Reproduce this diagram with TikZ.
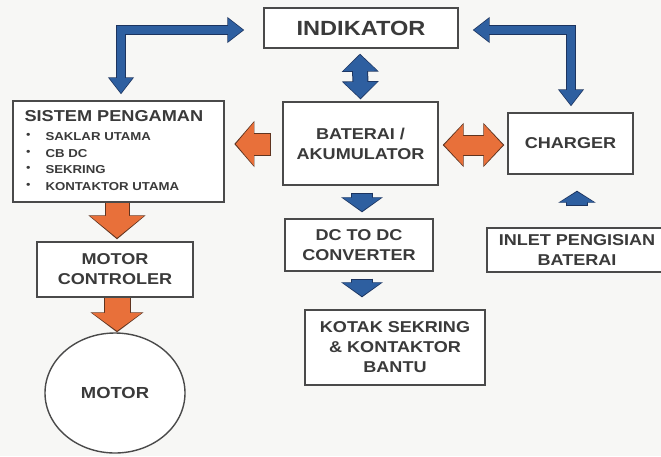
\documentclass[tikz,border=0pt]{standalone}
\usepackage{fontspec}
\setmainfont{Liberation Sans}[FakeStretch=1.15]
\usetikzlibrary{arrows.meta,calc,shapes.geometric}
\definecolor{bgc}{HTML}{F7F7F5}
\definecolor{txt}{HTML}{3A3A3A}
\definecolor{boxc}{HTML}{4A4A4A}
\definecolor{bfill}{RGB}{46,95,160}
\definecolor{bdark}{RGB}{28,52,95}
\definecolor{ofill}{RGB}{232,112,58}
\definecolor{odark}{RGB}{95,52,32}
\tikzset{
  blk/.style={draw=boxc, line width=1.4pt, fill=white, inner sep=0pt, align=center,
    text=txt, font=\fontsize{15.7}{20}\selectfont\bfseries},
  bo/.style={draw=bdark, line width=#1+2, line join=miter, line cap=butt},
  bi/.style={draw=bfill, line width=#1, line join=miter, line cap=butt},
  ob/.style={draw=odark, line width=#1+2, line cap=butt},
  oi/.style={draw=ofill, line width=#1, line cap=butt},
}
\begin{document}
\begin{tikzpicture}[x=1pt,y=-1pt]
\useasboundingbox (0,0) rectangle (661,456);
\fill[bgc] (0,0) rectangle (661,456);

% boxes
\node[blk, minimum width=194, minimum height=40, font=\fontsize{20.5}{24}\selectfont\bfseries] (ind) at (361,28) {INDIKATOR};
\node[blk, minimum width=211, minimum height=101] (sis) at (118.5,151.5) {};
\node[blk, minimum width=155, minimum height=83] (bat) at (360.5,143.5) {BATERAI /\\AKUMULATOR};
\node[blk, minimum width=125, minimum height=61] (chg) at (570.5,143.5) {CHARGER};
\node[blk, minimum width=148, minimum height=52] (dc) at (359,245) {DC TO DC\\CONVERTER};
\node[blk, minimum width=180, minimum height=75] (kot) at (395,347.5) {KOTAK SEKRING\\\& KONTAKTOR\\BANTU};
\node[blk, minimum width=180, minimum height=44] (inl) at (577,250) {INLET PENGISIAN\\BATERAI};
\node[blk, minimum width=156, minimum height=55] (mc) at (115,269.5) {MOTOR\\CONTROLER};
\node[blk, ellipse, minimum width=140, minimum height=120] (mot) at (115,393) {};
\node[text=txt, font=\fontsize{16}{20}\selectfont\bfseries] (motl) at (mot.center) {MOTOR};

% text inside SISTEM PENGAMAN
\node[anchor=west, inner sep=0pt, text=txt, font=\fontsize{15.8}{20}\selectfont\bfseries] (sist) at ($(sis.north west)+(12,16)$) {SISTEM PENGAMAN};
\foreach \t/\dy [count=\i] in {SAKLAR UTAMA/36, CB DC/53, SEKRING/69, KONTAKTOR UTAMA/86}{
  \node[anchor=center, inner sep=0pt, text=txt, font=\fontsize{11}{12}\selectfont] (bul\i) at ($(sis.north west)+(16,\dy)$) {•};
  \node[anchor=west, inner sep=0pt, text=txt, font=\fontsize{11.5}{12}\selectfont\bfseries] (it\i) at ($(sis.north west)+(33,\dy)$) {\t};
}

% ---- blue L connector: SISTEM <-> INDIKATOR
\coordinate (l1a) at ($(sis.north)+(2.5,-6)$);
\coordinate (l1b) at ($(ind.west)+(-19,2)$);
\draw[bo=8, {Triangle[width=25,length=17]}-{Triangle[width=25,length=17]}] (l1a) |- (l1b);
\draw[bi=8, shorten <=1.2, shorten >=1.2, {Triangle[width=22,length=15]}-{Triangle[width=22,length=15]}] (l1a) |- (l1b);

% ---- blue L connector: INDIKATOR <-> CHARGER
\coordinate (l2a) at ($(ind.east)+(14,2)$);
\coordinate (l2b) at ($(chg.north)+(0.5,-6)$);
\draw[bo=8, {Triangle[width=25,length=17]}-{Triangle[width=25,length=17]}] (l2a) -| (l2b);
\draw[bi=8, shorten <=1.2, shorten >=1.2, {Triangle[width=22,length=15]}-{Triangle[width=22,length=15]}] (l2a) -| (l2b);

% ---- blue double vertical INDIKATOR <-> BATERAI
\coordinate (v1a) at ($(ind.south)+(-1,5)$);
\coordinate (v1b) at ($(bat.north)+(0,-2)$);
\draw[bo=14, {Triangle[width=36,length=18]}-{Triangle[width=36,length=18]}] (v1a) -- (v1b);
\draw[bi=14, shorten <=1.2, shorten >=1.2, {Triangle[width=33,length=16]}-{Triangle[width=33,length=16]}] (v1a) -- (v1b);

% ---- blue BATERAI -> DC
\coordinate (d1a) at ($(bat.south)+(1.5,7)$);
\coordinate (d1b) at ($(bat.south|-dc.north)+(1.5,-6)$);
\draw[bo=20, -{Triangle[width=41,length=15]}] (d1a) -- (d1b);
\draw[bi=20, shorten <=1, shorten >=1.2, -{Triangle[width=38,length=13.5]}] (d1a) -- (d1b);

% ---- blue DC -> KOTAK
\coordinate (d2a) at ($(dc.south)+(3,7)$);
\coordinate (d2b) at ($(dc.south|-kot.north)+(3,-12)$);
\draw[bo=20, -{Triangle[width=41,length=15]}] (d2a) -- (d2b);
\draw[bi=20, shorten <=1, shorten >=1.2, -{Triangle[width=38,length=13.5]}] (d2a) -- (d2b);

% ---- blue INLET -> CHARGER
\coordinate (u1a) at ($(inl.north)+(0,-21)$);
\coordinate (u1b) at ($(inl.north|-chg.south)+(0,16)$);
\draw[bo=20, -{Triangle[width=37,length=12]}] (u1a) -- (u1b);
\draw[bi=20, shorten <=1, shorten >=1.2, -{Triangle[width=34,length=10.5]}] (u1a) -- (u1b);

% ---- orange BATERAI -> SISTEM
\coordinate (o1a) at ($(bat.west)+(-11,0.5)$);
\coordinate (o1b) at ($(bat.west)+(-48,0.5)$);
\draw[ob=21, -{Triangle[width=45,length=20]}] (o1a) -- (o1b);
\draw[oi=21, shorten <=1, shorten >=1.5, -{Triangle[width=42,length=18]}] (o1a) -- (o1b);

% ---- orange BATERAI <-> CHARGER
\coordinate (o2a) at ($(bat.east)+(4,1.5)$);
\coordinate (o2b) at ($(chg.west)+(-3,1.5)$);
\draw[ob=19, {Triangle[width=43,length=21]}-{Triangle[width=43,length=21]}] (o2a) -- (o2b);
\draw[oi=19, shorten <=1.5, shorten >=1.5, {Triangle[width=40,length=19]}-{Triangle[width=40,length=19]}] (o2a) -- (o2b);

% ---- orange SISTEM -> MOTOR CONTROLER
\coordinate (o3a) at ($(sis.south)+(-1.5,0)$);
\coordinate (o3b) at ($(sis.south|-mc.north)+(-1.5,-2)$);
\draw[ob=23, -{Triangle[width=56,length=24]}] (o3a) -- (o3b);
\draw[oi=23, shorten <=0.7, shorten >=1.5, -{Triangle[width=53,length=22]}] (o3a) -- (o3b);

% ---- orange MOTOR CONTROLER -> MOTOR
\coordinate (o4a) at ($(mc.south)+(2,0)$);
\coordinate (o4b) at ($(mc.south|-mot.north)+(2,0)$);
\draw[ob=25, -{Triangle[width=52,length=20]}] (o4a) -- (o4b);
\draw[oi=25, shorten <=0.7, shorten >=1.5, -{Triangle[width=49,length=18]}] (o4a) -- (o4b);
\end{tikzpicture}
\end{document}
